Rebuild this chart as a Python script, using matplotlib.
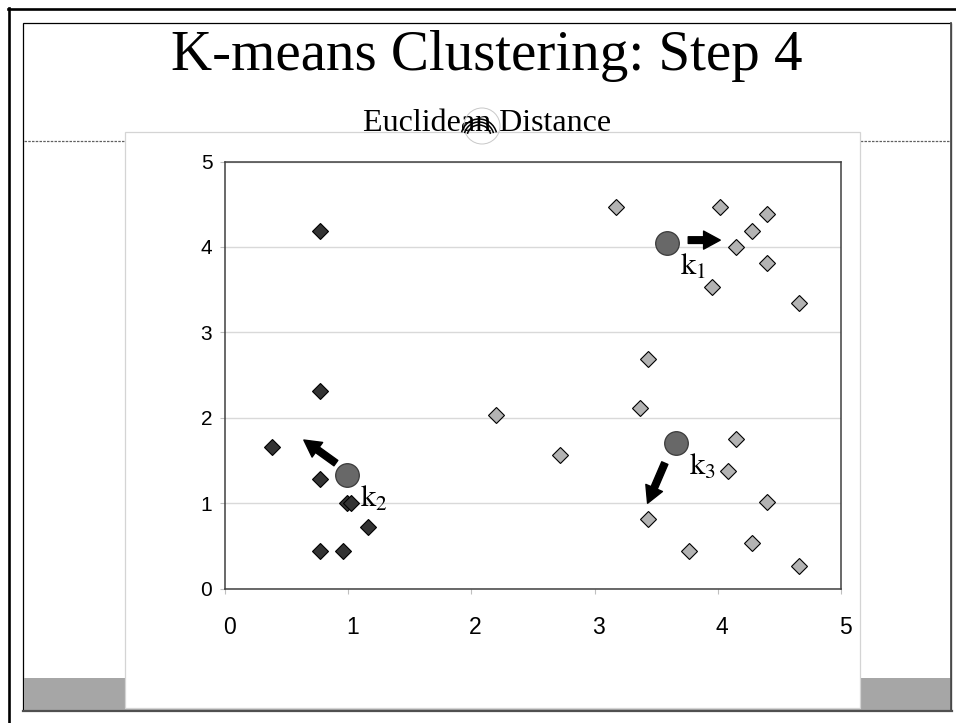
"""
K-means clustering, step 4: points coloured by cluster, centroids k1..k3
with arrows showing where each centroid moves next.
Values read off the slide by eye.
"""
import matplotlib
matplotlib.use("Agg")
import matplotlib.pyplot as plt
from matplotlib.patches import Rectangle, Arc, Circle
from matplotlib.lines import Line2D
from matplotlib.transforms import ScaledTranslation, IdentityTransform

plt.rcParams["mathtext.fontset"] = "stix"

# cluster 2 (dark diamonds)
dark_x = [0.77, 0.77, 0.38, 0.77, 0.99, 1.02, 1.16, 0.77, 0.96]
dark_y = [4.19, 2.31, 1.66, 1.28, 1.00, 1.00, 0.72, 0.44, 0.44]

# clusters 1 and 3 (light diamonds)
light_x = [3.17, 4.02, 4.40, 4.28, 4.15, 4.40, 3.95, 4.66, 3.43, 3.37,
           2.20, 2.72, 4.15, 4.08, 4.40, 3.43, 3.77, 4.28, 4.66]
light_y = [4.47, 4.47, 4.38, 4.19, 4.00, 3.81, 3.53, 3.34, 2.69, 2.12,
           2.03, 1.57, 1.75, 1.38, 1.01, 0.82, 0.44, 0.54, 0.26]

# centroids
cent_names = ["1", "2", "3"]
cent_x = [3.59, 0.99, 3.66]
cent_y = [4.05, 1.33, 1.71]

# centroid move arrows (start -> end)
arrow_x0 = [3.76, 0.90, 3.57]
arrow_y0 = [4.08, 1.47, 1.47]
arrow_x1 = [4.02, 0.64, 3.43]
arrow_y1 = [4.08, 1.74, 1.00]

ticks = [0, 1, 2, 3, 4, 5]

W, H = 956, 723


def fx(px):
    return px / W


def fy(py):
    return 1 - py / H


fig = plt.figure(figsize=(W / 100, H / 100), dpi=100)

# slide frame
fig.add_artist(Line2D([fx(8), 1], [fy(9), fy(9)], color="black", lw=1.9, zorder=1))
fig.add_artist(Line2D([fx(9), fx(9)], [fy(8), 0], color="black", lw=1.9, zorder=1))
fig.add_artist(Rectangle((fx(23), fy(710)), (951 - 23) / W, (710 - 23) / H,
                         fc="white", ec="black", lw=0.9, zorder=1))
fig.add_artist(Rectangle((fx(23.5), fy(709.5)), (950.5 - 23.5) / W, (709.5 - 678) / H,
                         fc="#a6a6a6", ec="none", zorder=1.1))
fig.add_artist(Line2D([fx(23), fx(952)], [fy(710.5), fy(710.5)], color="#505050", lw=1.6, zorder=1.2))
fig.add_artist(Line2D([fx(951), fx(951)], [fy(23), fy(711)], color="#505050", lw=1.3, zorder=1.2))
fig.add_artist(Line2D([fx(24), fx(950)], [fy(141), fy(141)], color="#606060", lw=0.9,
                      ls=(0, (2, 1)), zorder=1.2))

# chart panel
fig.add_artist(Rectangle((fx(125), fy(708)), (860 - 125) / W, (708 - 132) / H,
                         fc="white", ec="#d4d4d4", lw=0.9, zorder=1.5))

fig.text(fx(487), fy(70), "K-means Clustering: Step 4", fontsize=41,
         family="Liberation Serif", ha="center", va="baseline", zorder=3)
fig.text(fx(487), fy(131), "Euclidean Distance", fontsize=23,
         family="Liberation Serif", ha="center", va="baseline", zorder=3)

# the odd little arc glyph over "an"
fig.add_artist(Circle((482, H - 126), 18, transform=IdentityTransform(),
                      fill=False, ec="#c8c8c8", lw=0.7, zorder=4))
for r in [12, 15, 18]:
    fig.add_artist(Arc((479, H - 137), 2 * r, 2 * r, theta1=15, theta2=165,
                       transform=IdentityTransform(), color="black", lw=1.1, zorder=4))

ax = fig.add_axes([fx(225), fy(588.7), (841 - 225) / W, (588.7 - 161.5) / H])
ax.set_zorder(3)

ax.plot(dark_x, dark_y, "D", ls="none", ms=8, mfc="#333333", mec="black", mew=0.8, zorder=3)
ax.plot(light_x, light_y, "D", ls="none", ms=8, mfc="#b3b3b3", mec="black", mew=0.8, zorder=3)
ax.plot(cent_x, cent_y, "o", ls="none", ms=17, mfc="#686868", mec="#3a3a3a", mew=0.9, zorder=4)

for x, y, n in zip(cent_x, cent_y, cent_names):
    ax.annotate(r"$\mathrm{k}_{%s}$" % n, (x, y), xytext=(9.5, -23),
                textcoords="offset points", fontsize=22, ha="left", va="baseline", zorder=5)

for x0, y0, x1, y1 in zip(arrow_x0, arrow_y0, arrow_x1, arrow_y1):
    ax.annotate("", xy=(x1, y1), xytext=(x0, y0),
                arrowprops=dict(facecolor="black", edgecolor="black", width=4.8,
                                headwidth=13, headlength=12, shrink=0), zorder=5)

ax.set_xlim(0, 5)
ax.set_ylim(0, 5)
ax.set_xticks(ticks)
ax.set_yticks(ticks)
ax.set_xticklabels([str(t) for t in ticks], family="Liberation Sans")
ax.set_yticklabels([str(t) for t in ticks], family="Liberation Sans")
ax.yaxis.grid(True, color="#d9d9d9", lw=1)
ax.set_axisbelow(True)
for s in ax.spines.values():
    s.set_color("#404040")
    s.set_linewidth(1.1)
ax.tick_params(axis="both", direction="out", length=3.6, width=0.8, color="#bfbfbf")
ax.tick_params(axis="y", labelsize=15, pad=5.5)
ax.tick_params(axis="x", labelsize=16.5, pad=16)
for lab in ax.get_xticklabels():
    lab.set_transform(lab.get_transform() + ScaledTranslation(0.04, 0, fig.dpi_scale_trans))

fig.savefig("out.png", dpi=100)
